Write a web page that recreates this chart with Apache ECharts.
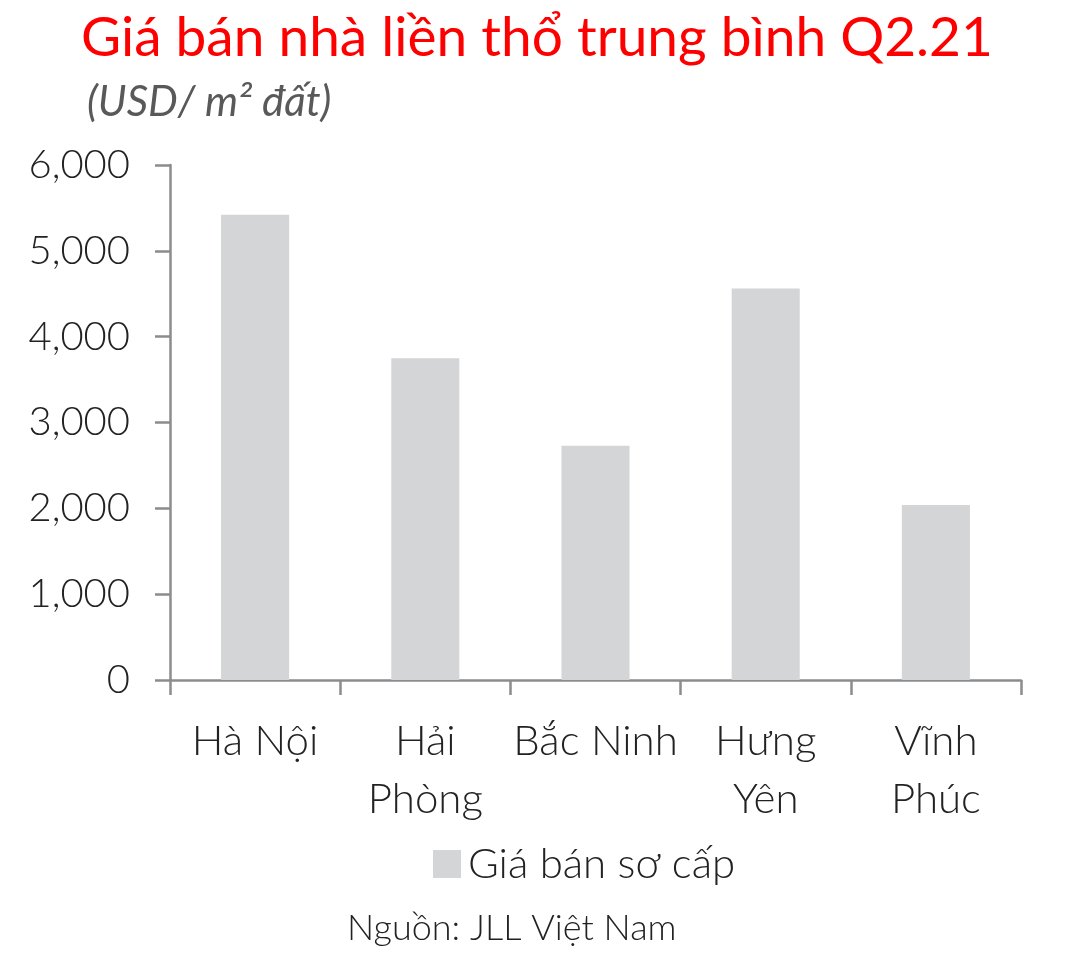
<!DOCTYPE html>
<html>
<head>
<meta charset="utf-8">
<script src="https://cdn.jsdelivr.net/npm/echarts@6/dist/echarts.min.js"></script>
<style>
  html, body { margin: 0; padding: 0; background: #fff; }
  #chart { width: 1069px; height: 963px; }
</style>
</head>
<body>
<div id="chart"></div>
<script>
// dữ liệu
const categories = ['Hà Nội', 'Hải\nPhòng', 'Bắc Ninh', 'Hưng\nYên', 'Vĩnh\nPhúc']
const giaSoCap = [5420, 3750, 2730, 4560, 2040]
const seriesName = 'Giá bán sơ cấp'
const titleText = 'Giá bán nhà liền thổ trung bình Q2.21'
const unitText = '(USD/ m² đất)'
const sourceText = 'Nguồn: JLL Việt Nam'

const font = 'Lato, "Noto Sans", sans-serif'
const axisColor = '#8c8c8c'

let option = {
    animation: false,
    title: [
        {
            text: titleText,
            left: 76,
            top: 6,
            textStyle: { color: '#ff0000', fontSize: 55, fontWeight: 'normal', fontFamily: font }
        },
        {
            text: unitText,
            left: 82,
            top: 76,
            textStyle: { color: '#595959', fontSize: 42, fontStyle: 'italic', fontWeight: 'normal', fontFamily: font }
        },
        {
            text: sourceText,
            left: 342,
            top: 905,
            textStyle: { color: '#222', fontSize: 36, fontWeight: 300, fontFamily: font }
        }
    ],
    legend: {
        data: [seriesName],
        left: 428,
        top: 838,
        itemWidth: 28,
        itemHeight: 28,
        itemGap: 10,
        icon: 'rect',
        textStyle: { fontSize: 42, color: '#222', fontWeight: 300, fontFamily: font, padding: [0, 0, 0, 2] }
    },
    grid: {
        left: 170,
        right: 48,
        top: 165,
        bottom: 283,
        containLabel: false
    },
    xAxis: {
        type: 'category',
        data: categories,
        axisLine: { lineStyle: { color: axisColor, width: 2.5 } },
        axisTick: { show: true, length: 15, lineStyle: { color: axisColor, width: 2.5 } },
        axisLabel: {
            margin: 32,
            interval: 0,
            fontSize: 42,
            lineHeight: 58,
            color: '#222',
            fontWeight: 300,
            fontFamily: font
        }
    },
    yAxis: {
        type: 'value',
        min: 0,
        max: 6000,
        interval: 1000,
        splitLine: { show: false },
        axisLine: { show: true, lineStyle: { color: axisColor, width: 2.5 } },
        axisTick: { show: true, length: 15, lineStyle: { color: axisColor, width: 2.5 } },
        axisLabel: {
            margin: 40,
            fontSize: 40,
            color: '#222',
            fontWeight: 300,
            fontFamily: font,
            formatter: v => v.toLocaleString('en-US')
        }
    },
    series: [
        {
            name: seriesName,
            type: 'bar',
            data: giaSoCap,
            barWidth: '40%',
            itemStyle: { color: '#d4d5d7' }
        }
    ]
}

let chart = echarts.init(document.querySelector('#chart'))
chart.setOption(option)
</script>
</body>
</html>
